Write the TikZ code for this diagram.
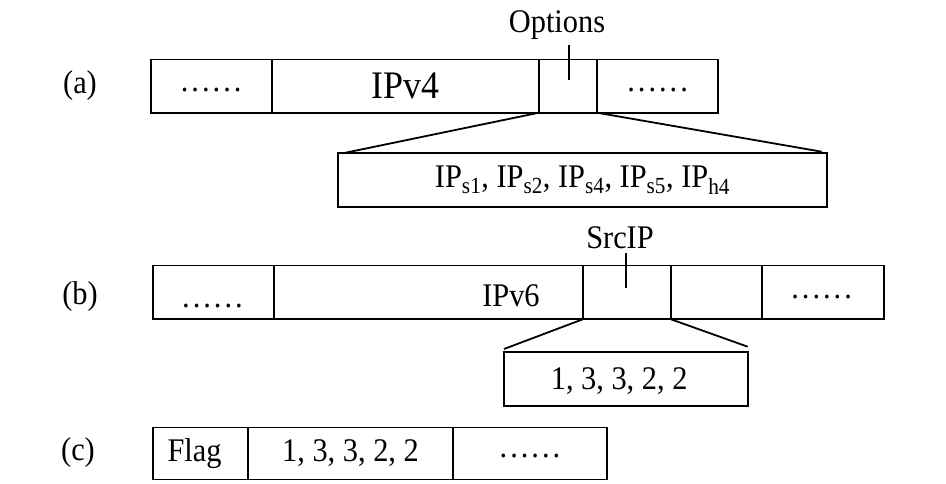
\documentclass[tikz,border=0pt]{standalone}
\usepackage{fontspec}
\setmainfont{Liberation Serif}[FakeStretch=0.92]
\usepackage{tikz}
\newcommand{\packetFont}{\fontsize{33}{38}\selectfont}
\newcommand{\largeFieldFont}{\fontsize{39}{44}\selectfont}
\tikzstyle{packetFigure} = [x = 1pt, y = -1pt, every node/.style={font=\packetFont}]
\tikzstyle{cellStyle} = [draw, line width = 1.8pt, inner sep = 0pt, outer sep = 0pt, anchor = north west]
\tikzstyle{zoomLine} = [line width = 1.8pt]
\tikzstyle{tickLine} = [line width = 1.8pt]
\newcommand{\dotRun}{.\kern3pt.\kern3pt.\kern3pt.\kern3pt.\kern3pt.}
\newcommand{\packetCell}[6]{\node [cellStyle, minimum width = #3 - #2, minimum height = #5 - #4] (#1) at (#2, #4) {#6};}
\newcommand{\packetCellShift}[8]{
  \node [cellStyle, minimum width = #3 - #2, minimum height = #5 - #4] (#1) at (#2, #4) {};
  \node (#1Text) at ([shift = {(#7, #8)}] #1.center) {#6};
}
\newcommand{\fieldTick}[4]{
  \coordinate (#1Top) at (#2, #3);
  \coordinate (#1Bottom) at (#2, #4);
  \draw [tickLine] (#1Top) -- (#1Bottom);
}
\begin{document}
\begin{tikzpicture}[packetFigure]
            \useasboundingbox (0, 0) rectangle (946, 483);

            \node (labelA) at (80, 86) {(a)};
            \packetCellShift{dotsA}{150.7}{271.7}{59.5}{112.7}{\dotRun}{0}{4}
            \packetCellShift{ipvFour}{271.7}{539}{59.5}{112.7}{\largeFieldFont IPv4}{0}{0}
            \packetCell{options}{539}{597}{59.5}{112.7}{}
            \packetCellShift{tailA}{597}{718.3}{59.5}{112.7}{\dotRun}{0}{4}
            \node [anchor = base] (optionsName) at (557, 32) {Options};
            \fieldTick{optionsTick}{569}{45}{80}
            \packetCell{optionsList}{338.3}{826.7}{153.3}{206.9}{IP\textsubscript{s1}, IP\textsubscript{s2}, IP\textsubscript{s4}, IP\textsubscript{s5}, IP\textsubscript{h4}}
            \draw [zoomLine] (options.south west) -- ([shift = {(4.4, 0)}] optionsList.north west);
            \draw [zoomLine] (options.south east) -- ([shift = {(-5, -1.6)}] optionsList.north east);

            \node (labelB) at (80, 297) {(b)};
            \packetCellShift{dotsB}{153.3}{274.3}{265.5}{319.3}{\dotRun}{-1.3}{14}
            \packetCellShift{ipvSix}{274.3}{582.7}{265.5}{319.3}{IPv6}{82.5}{3.6}
            \packetCell{srcIP}{582.7}{671}{265.5}{319.3}{}
            \packetCell{gapB}{671}{762.3}{265.5}{319.3}{}
            \packetCellShift{tailB}{762.3}{884}{265.5}{319.3}{\dotRun}{-1.5}{5}
            \node [anchor = base] (srcIPName) at (620, 248.3) {SrcIP};
            \fieldTick{srcIPTick}{625.7}{253.3}{287.7}
            \packetCellShift{srcIPList}{504}{748.3}{352.3}{405.7}{1, 3, 3, 2, 2}{-7}{2}
            \draw [zoomLine] (srcIP.south west) -- ([shift = {(0, -3.3)}] srcIPList.north west);
            \draw [zoomLine] (srcIP.south east) -- ([shift = {(-0.6, -5.6)}] srcIPList.north east);

            \node (labelC) at (78, 453) {(c)};
            \packetCellShift{flag}{153.3}{247.7}{427.5}{479.5}{Flag}{-6}{0}
            \packetCell{flagList}{247.7}{453.3}{427.5}{479.5}{1, 3, 3, 2, 2}
            \packetCellShift{tailC}{453.3}{606.7}{427.5}{479.5}{\dotRun}{0}{3}
\end{tikzpicture}
\end{document}
